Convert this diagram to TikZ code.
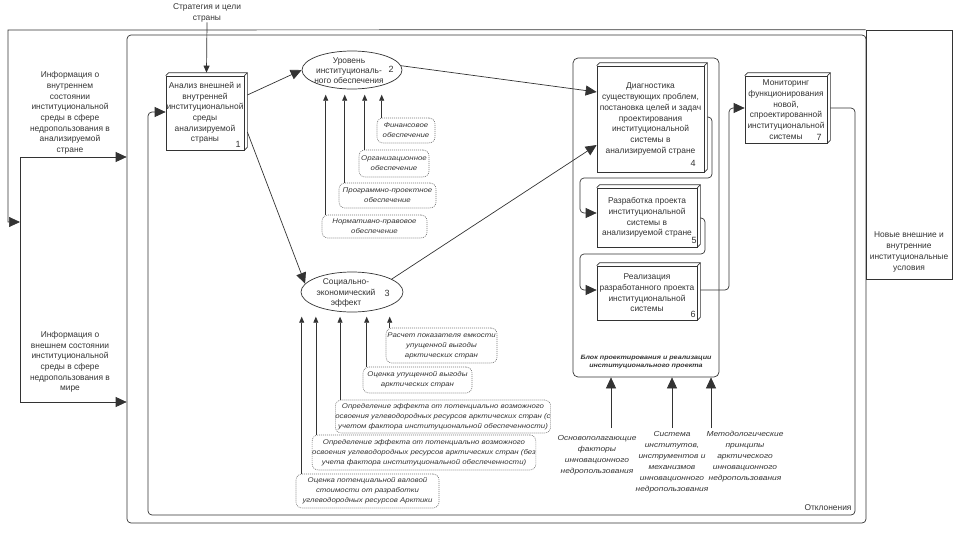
\documentclass[tikz,border=0pt]{standalone}
\usepackage{fontspec}
\setmainfont{Liberation Sans}
\newfontfamily\notefont[FakeStretch=1.15]{Liberation Sans}
\usetikzlibrary{arrows.meta,shapes.geometric,calc}
\newcommand{\thrd}[1]{%
  \draw[line] (#1.north west) -- ++(3,-3) -- ($(#1.north east)+(3,-3)$) -- ($(#1.south east)+(3,-3)$) -- (#1.south east);
  \draw[line] (#1.north east) -- ++(3,-3);}
\begin{document}
\begin{tikzpicture}[x=1pt,y=-1pt,
  every node/.style={font=\fontsize{8.4}{10.7}\selectfont, text=black!80},
  line/.style={draw=black!80, line width=0.7pt},
  big/.style={-{Triangle[length=11pt,width=10pt]}},
  small/.style={-{Triangle[length=6pt,width=5pt]}},
  box/.style={draw=black!80, line width=0.7pt, fill=white, inner sep=0pt, align=center},
  oval/.style={ellipse, draw=black!80, line width=0.7pt, fill=white, inner sep=0pt},
  note/.style={draw=black!55, line width=0.6pt, dash pattern=on 1pt off 1pt, rounded corners=6pt, inner sep=0pt, align=center, font=\notefont\itshape\fontsize{6.8}{10}\selectfont},
  ftxt/.style={align=center, inner sep=0pt, font=\notefont\itshape\fontsize{7.3}{11}\selectfont},
  lbl/.style={align=center, inner sep=0pt},
  otxt/.style={align=center, inner sep=0pt, font=\fontsize{8.4}{10.2}\selectfont},
  num/.style={inner sep=0pt, font=\fontsize{9}{10}\selectfont},
]
\path[use as bounding box] (0,0) rectangle (960,533);

% system boundary and outer environment
\node[draw=black!80, line width=0.7pt, rounded corners=4pt, minimum width=739pt, minimum height=488pt, inner sep=0pt] (sys) at (496.5,279) {};
\node[draw=black!80, line width=0.7pt, minimum width=86pt, minimum height=249pt, inner sep=0pt] (nov) at (909,154.5) {};
\node[lbl] (novt) at (909,252) {Новые внешние и\\внутренние\\институциональные\\условия};
\coordinate (tl) at (8,30);
\coordinate (envtop) at (20,157);
\coordinate (envbot) at (20,402);
\draw[line,big] (nov.north west) -- (tl) -- (8,222) -- (20,222);
\draw[line] (envtop) -- (envbot);
\draw[line,big] (envtop) -- (envtop -| sys.west);
\draw[line,big] (envbot) -- (envbot -| sys.west);
\node[lbl] (inf1) at (70,113) {Информация о\\внутреннем\\состоянии\\институциональной\\среды в сфере\\недропользования в\\анализируемой\\стране};
\node[lbl] (inf2) at (70,362) {Информация о\\внешнем состоянии\\институциональной\\среды в сфере\\недропользования в\\мире};

% design block
\node[draw=black!80, line width=0.7pt, rounded corners=5pt, minimum width=146pt, minimum height=319pt, inner sep=0pt] (blk) at (646,217.5) {};
\node[font=\notefont\bfseries\itshape\fontsize{6.2}{8.5}\selectfont, align=center, inner sep=0pt] (blbl) at (646,362) {Блок проектирования и реализации\\институционального проекта};

% boxes
\node[box, minimum width=78pt, minimum height=74pt] (b1) at (205,113) {Анализ внешней и\\внутренней\\институциональной\\среды\\анализируемой\\страны};
\node[box, minimum width=107pt, minimum height=106pt] (b4) at (650.5,119) {Диагностика\\существующих проблем,\\постановка целей и задач\\проектирования\\институциональной\\системы в\\анализируемой стране};
\node[box, minimum width=100pt, minimum height=59pt] (b5) at (647,217.5) {Разработка проекта\\институциональной\\системы в\\анализируемой стране};
\node[box, minimum width=100pt, minimum height=54pt] (b6) at (647,293) {Реализация\\разработанного проекта\\институциональной\\системы};
\node[box, minimum width=82pt, minimum height=67pt] (b7) at (786,109.5) {Мониторинг\\функционирования\\новой,\\спроектированной\\институциональной\\системы};
\thrd{b1}\thrd{b4}\thrd{b5}\thrd{b6}\thrd{b7}
\node[num] (k1) at (238,144) {1};
\node[num] (k4) at (693,163) {4};
\node[num] (k5) at (694,240) {5};
\node[num] (k6) at (693,314) {6};
\node[num] (k7) at (819,137) {7};

% ellipses
\node[oval, minimum width=100pt, minimum height=38pt] (e2) at (352,70) {};
\node[otxt] (e2t) at (349,70.5) {Уровень\\институциональ-\\ного обеспечения};
\node[num] (k2) at (391,69) {2};
\node[oval, minimum width=102pt, minimum height=40pt] (e3) at (352,292) {};
\node[otxt] (e3t) at (346,293) {Социально-\\экономический\\эффект};
\node[num] (k3) at (387,293) {3};

% notes for ellipse 2
\node[note, minimum width=58pt, minimum height=25pt] (n21) at (406,130.5) {Финансовое\\обеспечение};
\node[note, minimum width=70pt, minimum height=27pt] (n22) at (394,163.5) {Организационное\\обеспечение};
\node[note, minimum width=97pt, minimum height=25pt] (n23) at (387.5,195.5) {Программно-проектное\\обеспечение};
\node[note, minimum width=105pt, minimum height=23pt] (n24) at (374.5,226.5) {Нормативно-правовое\\обеспечение};
\draw[line,small] ($(n21.north west)+(5,0)$) -- ++(0,-23);
\draw[line,small] ($(n22.north west)+(6,0)$) -- ++(0,-55);
\draw[line,small] ($(n23.north west)+(6,0)$) -- ++(0,-88);
\draw[line,small] ($(n24.north west)+(4,0)$) -- ++(0,-120);

% notes for ellipse 3
\node[note, minimum width=111pt, minimum height=35pt] (n31) at (441.5,345.5) {Расчет показателя емкости\\упущенной выгоды\\арктических стран};
\node[note, minimum width=109pt, minimum height=26pt] (n32) at (417.5,380) {Оценка упущенной выгоды\\арктических стран};
\node[note, minimum width=212pt, minimum height=33pt] (n33) at (443,416.5) {Определение эффекта от потенциально возможного\\освоения углеводородных ресурсов арктических стран (с\\учетом фактора институциональной обеспеченности)};
\node[note, minimum width=214pt, minimum height=35pt] (n34) at (424,452.5) {Определение эффекта от потенциально возможного\\освоения углеводородных ресурсов арктических стран (без\\учета фактора институциональной обеспеченности)};
\node[note, minimum width=143pt, minimum height=34pt] (n35) at (367.5,491) {Оценка потенциальной валовой\\стоимости от разработки\\углеводородных ресурсов Арктики};
\draw[line,small] ($(n31.north west)+(4,0)$) -- ++(0,-11);
\draw[line,small] ($(n32.north west)+(4,0)$) -- ++(0,-50);
\draw[line,small] ($(n33.north west)+(5,0)$) -- ++(0,-83);
\draw[line,small] ($(n34.north west)+(4,0)$) -- ++(0,-118);
\draw[line,small] ($(n35.north west)+(6,0)$) -- ++(0,-157);

% strategy input
\node[lbl] (str) at (207,13) {Стратегия и цели\\страны};
\draw[line,-{Triangle[length=7pt,width=6pt]}] (str.south) -- ($(b1.north)+(1.5,-3)$);

% main connectors
\draw[line,big] ($(b1.east)+(3,-18)$) -- (e2.west);
\draw[line,big] ($(b1.east)+(3,19)$) -- (e3.170);
\draw[line,big] (e2.5) -- ($(b4.west)+(0,-27)$);
\draw[line,big] (e3.18) -- ($(b4.west)+(0,26)$);
\draw[line,big,rounded corners=4pt] ($(b4.east)+(3,-2)$) -- (712,117) -- (712,178) -- (580,178) -- (580,213) -- ($(b5.west)+(0,-4.5)$);
\draw[line,big,rounded corners=4pt] ($(b5.east)+(3,0.5)$) -- (705,218) -- (705,254) -- (580,254) -- (580,290) -- ($(b6.west)+(0,-3)$);
\draw[line,big,rounded corners=4pt] ($(b6.east)+(3,-3)$) -- (729,290) -- (729,108) -- ($(b7.west)+(0,-1.5)$);
\draw[line,big,rounded corners=4pt] ($(b7.east)+(3,-1.5)$) -- (855,108) -- (855,515) -- (148,515) -- (148,112) -- ($(b1.west)+(0,-1)$);
\node[lbl] (otk) at (828,508) {Отклонения};

% mechanisms into the design block
\node[ftxt] (f1) at (597,455.5) {Основополагающие\\факторы\\инновационного\\недропользования};
\node[ftxt] (f2) at (672,462) {Система\\институтов,\\инструментов и\\механизмов\\инновационного\\недропользования};
\node[ftxt] (f3) at (745,457) {Методологические\\принципы\\арктического\\инновационного\\недропользования};
\coordinate (m1) at (611,428);
\coordinate (m2) at (672,428);
\coordinate (m3) at (711,428);
\draw[line,big] (m1) -- (m1 |- blk.south);
\draw[line,big] (m2) -- (m2 |- blk.south);
\draw[line,big] (m3) -- (m3 |- blk.south);
\end{tikzpicture}
\end{document}
